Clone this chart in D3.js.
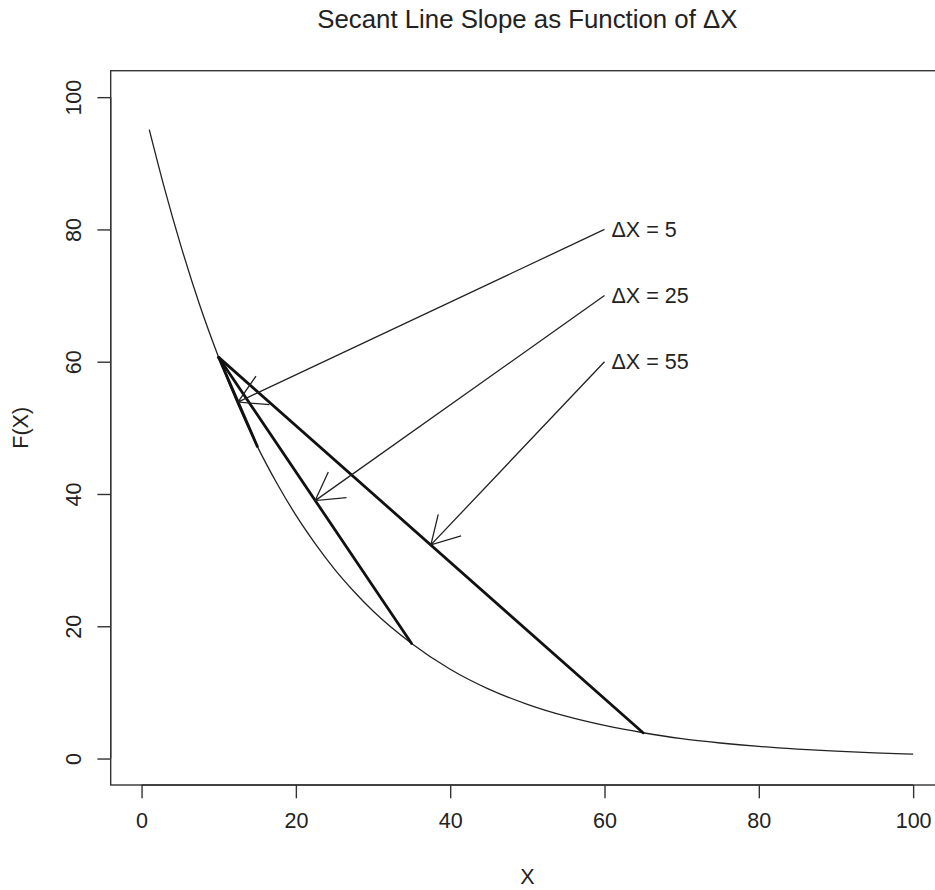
<!DOCTYPE html>
<head>
  <meta charset="utf-8" />
  <script src="https://d3js.org/d3.v7.min.js"></script>
  <style>
    body { margin: 0; background: #fff; }
    text { font-family: "Liberation Sans", Arial, sans-serif; fill: #222; }
  </style>
</head>
<body>
<script>
  // curve F(X)
  var curveX = [1, 3, 5, 7.5, 10, 12.5, 15, 17.5, 20, 22.5, 25, 27.5, 30, 35, 40, 45, 50, 55, 60, 65, 70, 75, 80, 85, 90, 95, 100];
  var curveY = [95.1, 86.1, 77.9, 68.7, 60.65, 53.5, 47.2, 41.7, 36.8, 32.5, 28.65, 25.3, 22.3, 17.4, 13.5, 10.5, 8.2, 6.4, 5.0, 3.9, 3.0, 2.35, 1.83, 1.43, 1.11, 0.87, 0.67];

  // secant lines from (10, 60.65)
  var secStartX = 10, secStartY = 60.65;
  var secEndX = [15, 35, 65];
  var secEndY = [47.2, 17.4, 3.9];

  // labels and arrows
  var labels = ["\u0394X = 5", "\u0394X = 25", "\u0394X = 55"];
  var labelX = 60;
  var labelY = [80, 70, 60];
  var tipX = [12.5, 22.5, 37.5];
  var tipY = [53.9, 39.0, 32.3];

  var xTicks = [0, 20, 40, 60, 80, 100];
  var yTicks = [0, 20, 40, 60, 80, 100];

  var width = 935, height = 890;
  var mLeft = 110.7, mRight = 944, mTop = 70.7, mBottom = 785;
  var fs = "21.5px";

  var x = d3.scaleLinear().domain([-4, 104]).range([mLeft, mRight]);
  var y = d3.scaleLinear().domain([-4, 104]).range([mBottom, mTop]);

  var svg = d3.select("body").append("svg")
    .attr("width", width).attr("height", height);

  // box
  svg.append("rect")
    .attr("x", mLeft).attr("y", mTop)
    .attr("width", mRight - mLeft).attr("height", mBottom - mTop)
    .attr("fill", "none").attr("stroke", "#333").attr("stroke-width", 1.4);

  // axes
  var xAxis = d3.axisBottom(x).tickValues(xTicks).tickSize(13.3).tickPadding(14).tickSizeOuter(0);
  var gx = svg.append("g").attr("transform", "translate(0," + mBottom + ")").call(xAxis);
  gx.select(".domain").attr("d", "M" + x(0) + ",0H" + x(100));
  var yAxis = d3.axisLeft(y).tickValues(yTicks).tickSize(13.3).tickPadding(12).tickSizeOuter(0);
  var gy = svg.append("g").attr("transform", "translate(" + mLeft + ",0)").call(yAxis);
  gy.select(".domain").attr("d", "M0," + y(0) + "V" + y(100));
  svg.selectAll(".tick line, .domain").attr("stroke", "#333").attr("stroke-width", 1.4);
  gx.selectAll(".tick text").style("font-size", fs).style("font-family", "Liberation Sans, Arial, sans-serif").attr("fill", "#222");
  gy.selectAll(".tick text")
    .style("font-size", fs).style("font-family", "Liberation Sans, Arial, sans-serif").attr("fill", "#222")
    .attr("text-anchor", "middle")
    .attr("x", 0).attr("dy", "0")
    .attr("transform", "translate(-30,0) rotate(-90)");

  // axis titles and main title
  svg.append("text").attr("x", (mLeft + mRight) / 2).attr("y", 884)
    .attr("text-anchor", "middle").style("font-size", fs).text("X");
  svg.append("text").attr("transform", "translate(28," + ((mTop + mBottom) / 2) + ") rotate(-90)")
    .attr("text-anchor", "middle").style("font-size", fs).text("F(X)");
  svg.append("text").attr("x", (mLeft + mRight) / 2).attr("y", 28)
    .attr("text-anchor", "middle").style("font-size", "25.8px").text("Secant Line Slope as Function of \u0394X");

  // curve
  var line = d3.line().x(function (d) { return x(d[0]); }).y(function (d) { return y(d[1]); })
    .curve(d3.curveMonotoneX);
  svg.append("path")
    .attr("d", line(d3.zip(curveX, curveY)))
    .attr("fill", "none").attr("stroke", "#222").attr("stroke-width", 1.3);

  // secants
  svg.selectAll(".secant").data(secEndX).join("line")
    .attr("class", "secant")
    .attr("x1", x(secStartX)).attr("y1", y(secStartY))
    .attr("x2", function (d) { return x(d); })
    .attr("y2", function (d, i) { return y(secEndY[i]); })
    .attr("stroke", "#111").attr("stroke-width", 2.8).attr("stroke-linecap", "round");

  // arrows (open heads, 30 degree)
  var headLen = 31.5, ang = Math.PI / 6;
  labels.forEach(function (lab, i) {
    var x0 = x(labelX), y0 = y(labelY[i]);
    var x1 = x(tipX[i]), y1 = y(tipY[i]);
    var a = Math.atan2(y0 - y1, x0 - x1);
    var p = "M" + x0 + "," + y0 + "L" + x1 + "," + y1 +
      "M" + (x1 + headLen * Math.cos(a - ang)) + "," + (y1 + headLen * Math.sin(a - ang)) +
      "L" + x1 + "," + y1 +
      "L" + (x1 + headLen * Math.cos(a + ang)) + "," + (y1 + headLen * Math.sin(a + ang));
    svg.append("path").attr("d", p).attr("fill", "none")
      .attr("stroke", "#222").attr("stroke-width", 1.3);
    svg.append("text").attr("x", x0 + 7).attr("y", y0)
      .attr("dy", "0.35em").style("font-size", fs).text(lab);
  });
</script>
</body>
